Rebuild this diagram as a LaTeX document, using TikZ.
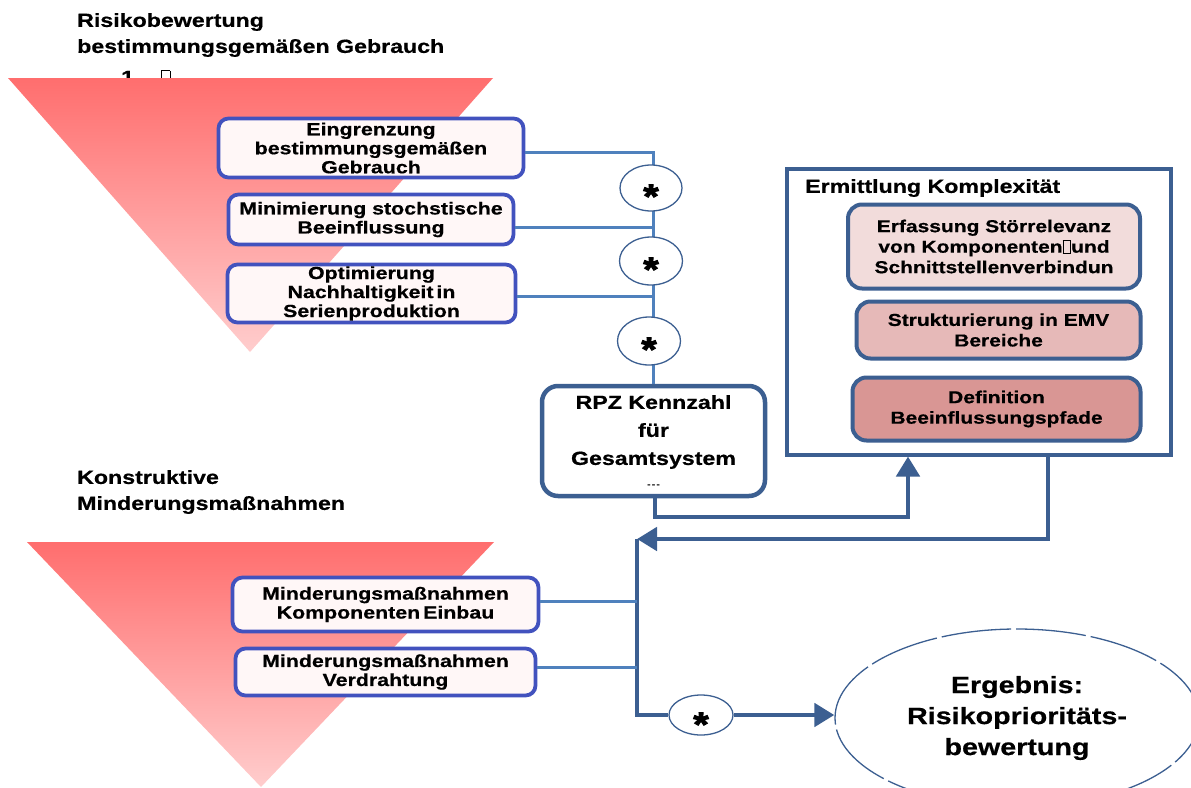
\documentclass[tikz,border=0pt]{standalone}
\usepackage{fontspec}
\newfontfamily\lab{Liberation Sans}[FakeStretch=1.22,FakeBold=0.6]
\newfontfamily\starfont{Liberation Sans}[FakeStretch=1.15,FakeBold=3]
\usetikzlibrary{arrows.meta,shapes.geometric}
\definecolor{dkblue}{RGB}{60,95,145}
\definecolor{ltblue}{RGB}{79,129,189}
\definecolor{bxblue}{RGB}{66,82,190}
\definecolor{pinkA}{RGB}{242,220,219}
\definecolor{pinkB}{RGB}{230,185,184}
\definecolor{pinkC}{RGB}{217,150,148}
\definecolor{triTop}{RGB}{255,110,110}
\definecolor{triBot}{RGB}{255,205,205}
\definecolor{boxfill}{RGB}{255,247,247}
\newcommand{\tofu}{{\setlength{\fboxsep}{0pt}\setlength{\fboxrule}{0.7pt}\fbox{\rule{0pt}{0.68em}\hspace{0.42em}}}}
\newcommand{\starmark}{\raisebox{-20pt}[0pt][0pt]{*}}
\begin{document}
\begin{tikzpicture}[x=1pt,y=-1pt,
  title/.style={font={\lab\bfseries\fontsize{19}{26}\selectfont},align=left,inner sep=0pt,anchor=west},
  lbox/.style={draw=bxblue,line width=3.8pt,rounded corners=10pt,fill=boxfill,align=center,inner sep=0pt,
    font={\lab\bfseries\fontsize{17.5}{19}\selectfont}},
  rbox/.style={draw=dkblue,line width=4pt,rounded corners=14pt,align=center,inner sep=0pt,
    font={\lab\bfseries\fontsize{17.2}{20.5}\selectfont}},
  starell/.style={ellipse,draw=dkblue,line width=1.3pt,fill=white,inner sep=0pt,
    font={\starfont\bfseries\fontsize{34}{34}\selectfont}},
  dk/.style={draw=dkblue,line width=4.8pt},
  darr/.style={dk,-{Triangle[length=20pt,width=23pt]}},
  lt/.style={draw=ltblue,line width=3pt}]
\useasboundingbox (0,0) rectangle (1191,787);

% titles and background triangles
\node[title,anchor=base west] (one) at (121,84) {1\hspace{27pt}\tofu};
\shade[top color=triTop,bottom color=triBot] (8,78) -- (493,78) -- (250,352) -- cycle;
\shade[top color=triTop,bottom color=triBot] (27,542) -- (494,542) -- (261,787) -- cycle;
\node[title] (t1) at (77,35) {Risikobewertung\\bestimmungsgemäßen Gebrauch};
\node[title] (t2) at (77,492) {Konstruktive\\Minderungsmaßnahmen};

% left boxes
\node[lbox,minimum width=305pt,minimum height=59pt] (b1) at (371,148) {Eingrenzung\\bestimmungsgemäßen\\Gebrauch};
\node[lbox,minimum width=285pt,minimum height=50pt] (b2) at (371,219.5) {Minimierung stochstische\\Beeinflussung};
\node[lbox,minimum width=288pt,minimum height=58pt] (b3) at (371.5,293.5) {Optimierung\\Nachhaltigkeit\,in\\Serienproduktion};
\node[lbox,minimum width=306pt,minimum height=54pt] (bA) at (385.5,604.5) {Minderungsmaßnahmen\\Komponenten\,Einbau};
\node[lbox,minimum width=300pt,minimum height=47pt] (bB) at (385.5,672) {Minderungsmaßnahmen\\Verdrahtung};

% RPZ box
\node[draw=dkblue,line width=4.5pt,rounded corners=16pt,fill=white,align=center,inner sep=0pt,
  minimum width=223pt,minimum height=110pt,font={\lab\bfseries\fontsize{19}{28}\selectfont}]
  (rpz) at (653.5,441) {RPZ Kennzahl\\für\\Gesamtsystem\\[-6pt]{\fontsize{8}{8}\selectfont -\,-\,-}};

% Ermittlung Komplexität
\node[draw=dkblue,line width=4pt,fill=white,minimum width=384pt,minimum height=286pt,inner sep=0pt] (erm) at (978.5,311.5) {};
\node[title,anchor=west] (ermt) at (805,188) {Ermittlung Komplexität};
\node[rbox,fill=pinkA,minimum width=292pt,minimum height=84pt] (i1) at (994,246.5) {Erfassung Störrelevanz\\von Komponenten\tofu und\\Schnittstellenverbindun};
\node[rbox,fill=pinkB,minimum width=284pt,minimum height=57pt] (i2) at (998.5,330) {Strukturierung in EMV\\Bereiche};
\node[rbox,fill=pinkC,minimum width=288pt,minimum height=63pt] (i3) at (996.5,409) {Definition\\Beeinflussungspfade};

% upper connectors
\draw[lt] ([yshift=-4pt]b1.east) -| (rpz.north);
\draw[lt] ([yshift=-7.5pt]b2.east) -- ([yshift=-7.5pt]b2.east -| rpz.north);
\draw[lt] ([yshift=-2.5pt]b3.east) -- ([yshift=-2.5pt]b3.east -| rpz.north);
\node[starell,minimum width=62pt,minimum height=46pt] (e1) at (651,188) {\starmark};
\node[starell,minimum width=63pt,minimum height=48pt] (e2) at (651,261) {\starmark};
\node[starell,minimum width=63pt,minimum height=48pt] (e3) at (649,341) {\starmark};

% lower part
\coordinate (c1) at (908,517);
\coordinate (c2) at (1048,539);
\coordinate (bustop) at (637,539);
\coordinate (busbot) at (637,715);
\node[starell,minimum width=64pt,minimum height=40pt] (e4) at (701,715) {\raisebox{-2pt}{\starmark}};
\node[ellipse,draw=dkblue,line width=1.3pt,dash pattern=on 70pt off 5pt,fill=white,inner sep=0pt,
  minimum width=364pt,minimum height=178pt,align=center,font={\lab\bfseries\fontsize{23.5}{31}\selectfont}]
  (erg) at (1017,718) {Ergebnis:\\Risikoprioritäts-\\bewertung};

\draw[darr] ([xshift=1.5pt]rpz.south) |- (c1) -- (c1 |- erm.south);
\draw[darr] (erm.south -| c2) -- (c2) -- (bustop);
\draw[dk] (bustop) -- (busbot) -- (e4.west);
\draw[darr] (e4.east) -- (e4.east -| erg.west);
\draw[lt] ([yshift=3.5pt]bA.east) -- ([yshift=3.5pt]bA.east -| bustop);
\draw[lt] ([yshift=5pt]bB.east) -- ([yshift=5pt]bB.east -| bustop);
\end{tikzpicture}
\end{document}
